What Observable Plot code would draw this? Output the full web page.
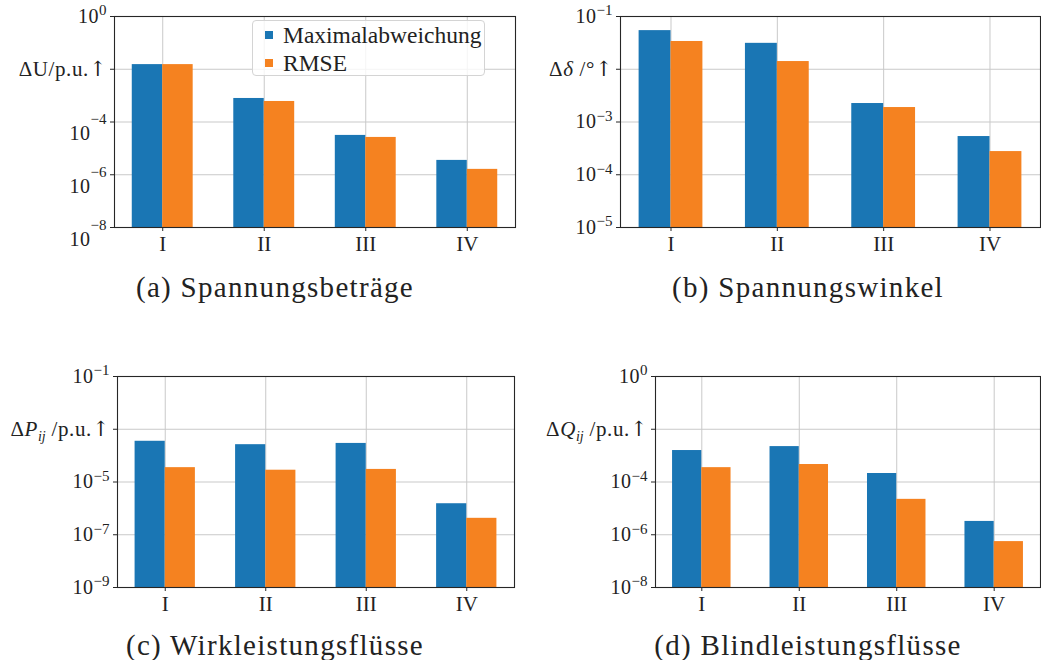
<!DOCTYPE html>
<html><head><meta charset="utf-8">
<script src="https://cdn.jsdelivr.net/npm/d3@7"></script>
<script src="https://cdn.jsdelivr.net/npm/@observablehq/plot@0.6"></script>
<style>
body{margin:0;background:#fff;}
#root{position:relative;width:1041px;height:660px;overflow:hidden;font-family:'Liberation Serif',serif;color:#222;}
.panel{position:absolute;}
.panel svg{overflow:visible;}
#caps{position:absolute;left:0;top:0;pointer-events:none;}
.legend{position:absolute;box-sizing:border-box;border:1px solid #d4d4d4;border-radius:4px;background:rgba(255,255,255,0.8);font-family:'Liberation Serif',serif;font-size:23.5px;color:#222;}
.legend .sw{position:absolute;width:8px;height:8px;}
.legend .lab{position:absolute;line-height:24px;white-space:nowrap;}
</style></head><body><div id="root"></div>
<script>
// ---- data ----
const categories = ["I", "II", "III", "IV"];
const seriesNames = ["Maximalabweichung", "RMSE"];
const seriesColors = ["#1a76b4", "#f58220"];

const uMax   = [0.015, 7.8e-4, 3.1e-5, 3.5e-6];
const uRmse  = [0.015, 6.0e-4, 2.6e-5, 1.6e-6];
const dMax   = [0.054, 0.031, 2.24e-3, 5.3e-4];
const dRmse  = [0.0336, 0.014, 1.88e-3, 2.75e-4];
const pMax   = [3.5e-4, 2.6e-4, 2.9e-4, 1.5e-6];
const pRmse  = [3.5e-5, 2.8e-5, 3.0e-5, 4.2e-7];
const qMax   = [1.56e-3, 2.2e-3, 2.1e-4, 3.2e-6];
const qRmse  = [3.5e-4, 4.6e-4, 2.2e-5, 5.5e-7];

const uTicks = [1, 1e-2, 1e-4, 1e-6, 1e-8];
const dTicks = [1e-1, 1e-2, 1e-3, 1e-4, 1e-5];
const pTicks = [1e-1, 1e-3, 1e-5, 1e-7, 1e-9];
const qTicks = [1, 1e-2, 1e-4, 1e-6, 1e-8];

const captions = ["(a) Spannungsbeträge", "(b) Spannungswinkel", "(c) Wirkleistungsflüsse", "(d) Blindleistungsflüsse"];
const uLabel = [{t: "ΔU/p.u."}, {t: "↑", arrow: true}];
const dLabel = [{t: "Δ"}, {t: "δ", it: true}, {t: " /°"}, {t: "↑", arrow: true}];
const pLabel = [{t: "Δ"}, {t: "P", it: true}, {t: "ij", it: true, sub: true}, {t: " /p.u."}, {t: "↑", arrow: true}];
const qLabel = [{t: "Δ"}, {t: "Q", it: true}, {t: "ij", it: true, sub: true}, {t: " /p.u."}, {t: "↑", arrow: true}];

// ---- layout ----
const panels = [
  {max: uMax, rmse: uRmse, ticks: uTicks, label: uLabel, caption: captions[0], left: 0,   top: 0,   w: 520, ml: 114, mr: 5, capX: 275, capY: 297, odd: true, legend: true},
  {max: dMax, rmse: dRmse, ticks: dTicks, label: dLabel, caption: captions[1], left: 520, top: 0,   w: 521, ml: 100, mr: 1, capX: 808, capY: 297},
  {max: pMax, rmse: pRmse, ticks: pTicks, label: pLabel, caption: captions[2], left: 0,   top: 360, w: 520, ml: 117, mr: 6, capX: 275, capY: 655},
  {max: qMax, rmse: qRmse, ticks: qTicks, label: qLabel, caption: captions[3], left: 520, top: 360, w: 521, ml: 135, mr: 1, capX: 808, capY: 655}
];
const H = 258, MT = 16, MB = 31;
const root = document.getElementById("root");

function expOf(v) { return Math.round(Math.log10(v)); }

for (const cfg of panels) {
  const rows = [];
  categories.forEach((c, i) => {
    rows.push({i, series: seriesNames[0], value: cfg.max[i]});
    rows.push({i, series: seriesNames[1], value: cfg.rmse[i]});
  });
  const yMin = d3.min(cfg.ticks), yMax = d3.max(cfg.ticks);
  const labelTick = cfg.ticks[1];
  const idx = categories.map((c, i) => i);
  const plot = Plot.plot({
    width: cfg.w, height: H,
    marginLeft: cfg.ml, marginRight: cfg.mr, marginTop: MT, marginBottom: MB,
    x: {type: "linear", domain: [-0.475, 3.475]},
    y: {type: "log", domain: [yMin, yMax]},
    color: {domain: seriesNames, range: seriesColors},
    style: {fontFamily: "'Liberation Serif', serif", fontSize: "20px", color: "#222", background: "transparent", overflow: "visible"},
    marks: [
      Plot.gridY(cfg.ticks, {stroke: "#c9c9c9", strokeOpacity: 1, strokeWidth: 1}),
      Plot.gridX(idx, {stroke: "#c9c9c9", strokeOpacity: 1, strokeWidth: 1}),
      Plot.rectY(rows, {
        x1: d => d.i + (d.series === seriesNames[0] ? -0.3 : 0),
        x2: d => d.i + (d.series === seriesNames[0] ? 0 : 0.3),
        y1: () => yMin, y2: "value", fill: "series", inset: 0
      }),
      Plot.frame({stroke: "#262626", strokeWidth: 1.1}),
      Plot.axisX(idx, {tickFormat: i => categories[i], tickSize: 4, tickPadding: 5, fontSize: 21, stroke: "#262626", label: null}),
      Plot.axisY(cfg.ticks, {tickFormat: v => v === labelTick ? "@label" : "10^" + expOf(v), tickSize: 4, tickPadding: 4, fontSize: 20, stroke: "#262626", label: null})
    ]
  });
  // rich text for y tick labels
  d3.select(plot).selectAll('g[aria-label="y-axis tick label"] text').each(function() {
    const s = this.textContent;
    const t = d3.select(this);
    t.text("");
    if (s === "@label") {
      let shifted = false;
      for (const seg of cfg.label) {
        const ts = t.append("tspan").text(seg.t);
        if (seg.it) ts.attr("font-style", "italic");
        if (seg.arrow) ts.attr("font-family", "'DejaVu Serif', serif").attr("font-size", 21);
        else ts.attr("font-size", seg.sub ? 14 : 21).attr("letter-spacing", seg.sub ? 0 : "0.6px");
        if (seg.sub) { ts.attr("dy", "5px"); shifted = true; }
        else if (shifted) { ts.attr("dy", "-5px"); shifted = false; }
      }
    } else {
      const e = +s.split("^")[1];
      const es = (e < 0 ? "\u2212" : "") + Math.abs(e);
      if (cfg.odd && e !== 0) {
        t.append("tspan").text("10").attr("dy", "12px").attr("letter-spacing", "0.5px");
        t.append("tspan").text(es).attr("font-size", 15).attr("dy", "-16px");
      } else {
        t.append("tspan").text("10").attr("letter-spacing", "0.5px");
        t.append("tspan").text(es).attr("font-size", 15).attr("dy", "-7.5px");
      }
    }
  });
  const div = document.createElement("div");
  div.className = "panel";
  div.style.left = cfg.left + "px";
  div.style.top = cfg.top + "px";
  div.appendChild(plot);
  root.appendChild(div);

  if (cfg.legend) {
    const lg = document.createElement("div");
    lg.className = "legend";
    lg.style.left = "252px"; lg.style.top = "20px"; lg.style.width = "233px"; lg.style.height = "56px";
    seriesNames.forEach((name, k) => {
      const sw = document.createElement("div");
      sw.className = "sw";
      sw.style.background = seriesColors[k];
      sw.style.left = "12px";
      sw.style.top = (10 + k * 28) + "px";
      const lab = document.createElement("div");
      lab.className = "lab";
      lab.textContent = name;
      lab.style.left = "30px";
      lab.style.top = (2 + k * 28) + "px";
      lg.appendChild(sw); lg.appendChild(lab);
    });
    root.appendChild(lg);
  }
}

// captions as SVG text
const caps = d3.select(root).append("svg").attr("id", "caps").attr("width", 1041).attr("height", 660);
caps.selectAll("text").data(panels).join("text")
  .attr("x", d => d.capX).attr("y", d => d.capY)
  .attr("text-anchor", "middle")
  .attr("font-family", "'Liberation Serif', serif")
  .attr("font-size", 29)
  .attr("letter-spacing", "1.3px")
  .attr("fill", "#222")
  .text(d => d.caption);
</script></body></html>
